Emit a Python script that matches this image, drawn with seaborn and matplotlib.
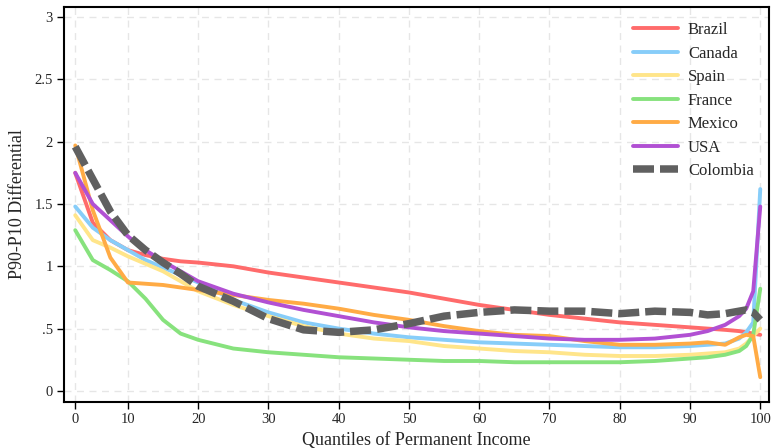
import matplotlib
matplotlib.use('Agg')
import matplotlib.pyplot as plt
import numpy as np
import pandas as pd
import seaborn as sns

# quantile positions (the first point sits on the tick labelled "0")
quantiles = [2.5, 5, 7.5, 10, 12.5, 15, 17.5, 20, 25, 30, 35, 40, 45, 50, 55, 60,
             65, 70, 75, 80, 85, 90, 92.5, 95, 97, 98, 99, 100]

brazil = [1.75, 1.35, 1.21, 1.13, 1.09, 1.06, 1.04, 1.03, 1.00, 0.95, 0.91, 0.87, 0.83, 0.79,
          0.74, 0.69, 0.65, 0.61, 0.58, 0.55, 0.53, 0.51, 0.50, 0.49, 0.48, 0.47, 0.46, 0.45]
canada = [1.48, 1.31, 1.21, 1.13, 1.05, 0.99, 0.93, 0.87, 0.73, 0.63, 0.55, 0.50, 0.46, 0.43,
          0.41, 0.39, 0.38, 0.37, 0.36, 0.35, 0.35, 0.36, 0.37, 0.38, 0.42, 0.47, 0.55, 1.62]
spain = [1.41, 1.21, 1.15, 1.08, 1.02, 0.96, 0.88, 0.80, 0.69, 0.60, 0.52, 0.46, 0.42, 0.40,
         0.36, 0.34, 0.32, 0.31, 0.29, 0.28, 0.28, 0.29, 0.30, 0.31, 0.34, 0.38, 0.44, 0.50]
france = [1.29, 1.05, 0.97, 0.88, 0.74, 0.57, 0.46, 0.41, 0.34, 0.31, 0.29, 0.27, 0.26, 0.25,
          0.24, 0.24, 0.23, 0.23, 0.23, 0.23, 0.24, 0.26, 0.27, 0.29, 0.32, 0.36, 0.45, 0.82]
mexico = [1.97, 1.45, 1.07, 0.87, 0.86, 0.85, 0.83, 0.81, 0.77, 0.73, 0.70, 0.66, 0.61, 0.57,
          0.52, 0.48, 0.45, 0.44, 0.40, 0.37, 0.37, 0.38, 0.39, 0.37, 0.43, 0.45, 0.44, 0.11]
usa = [1.75, 1.50, 1.37, 1.24, 1.13, 1.04, 0.96, 0.88, 0.78, 0.71, 0.65, 0.60, 0.55, 0.51,
       0.48, 0.46, 0.44, 0.42, 0.41, 0.41, 0.42, 0.45, 0.48, 0.53, 0.60, 0.66, 0.80, 1.48]
colombia = [1.96, 1.70, 1.44, 1.25, 1.13, 1.03, 0.94, 0.84, 0.72, 0.58, 0.49, 0.47, 0.49, 0.54,
            0.60, 0.63, 0.65, 0.64, 0.64, 0.62, 0.64, 0.63, 0.61, 0.62, 0.64, 0.65, 0.63, 0.57]

countries = ['Brazil', 'Canada', 'Spain', 'France', 'Mexico', 'USA', 'Colombia']
series = [brazil, canada, spain, france, mexico, usa, colombia]
colors = ['#ff6b6b', '#87cdf9', '#ffe58a', '#87e27d', '#ffab45', '#b150d3', '#606060']

xtick_pos = [2.5, 10, 20, 30, 40, 50, 60, 70, 80, 90, 100]
xtick_lab = ['0', '10', '20', '30', '40', '50', '60', '70', '80', '90', '100']
ytick_pos = [0, 0.5, 1, 1.5, 2, 2.5, 3]
ytick_lab = ['0', '.5', '1', '1.5', '2', '2.5', '3']

sns.set_style('white')
plt.rcParams['font.family'] = ['Liberation Serif', 'DejaVu Serif']

fig = plt.figure(figsize=(7.71, 4.48), dpi=100)
ax = fig.add_axes([0.083, 0.103, 0.914, 0.881])

for name, vals, col in zip(countries, series, colors):
    if name == 'Colombia':
        sns.lineplot(x=quantiles, y=vals, ax=ax, color=col, lw=5.4,
                     linestyle=(0, (2.8, 0.8)), label=name)
    else:
        sns.lineplot(x=quantiles, y=vals, ax=ax, color=col, lw=2.8, label=name)

ax.set_xlim(0.9, 101.2)
ax.set_ylim(-0.088, 3.08)
ax.set_xticks(xtick_pos)
ax.set_xticklabels(xtick_lab)
ax.set_yticks(ytick_pos)
ax.set_yticklabels(ytick_lab)
ax.tick_params(axis='both', direction='out', length=5, width=1, color='black',
               labelsize=10.5, pad=3, left=True, bottom=True)
ax.grid(True, color='#e6e6e6', linestyle=(0, (5, 4)), lw=1)
for s in ax.spines.values():
    s.set_color('black')
    s.set_linewidth(1.5)

ax.set_xlabel('Quantiles of Permanent Income', fontsize=13, labelpad=4)
ax.set_ylabel('P90-P10 Differential', fontsize=13, labelpad=6)

leg = ax.legend(loc='upper right', frameon=False, fontsize=12, handlelength=2.7,
                labelspacing=0.45, handletextpad=0.6, borderaxespad=0.5)

fig.savefig('out.png', dpi=100)
